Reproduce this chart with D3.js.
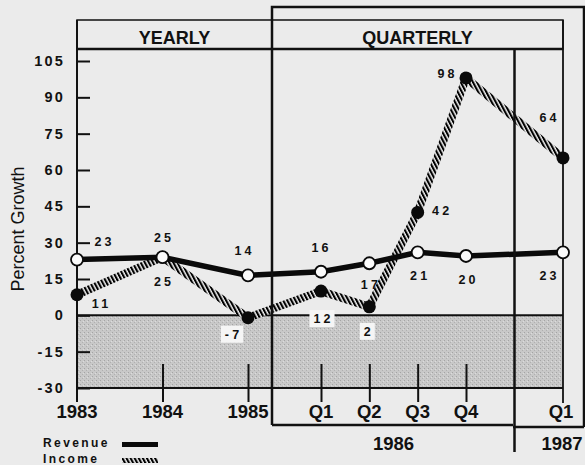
<!DOCTYPE html>
<html>
<head>
<meta charset="utf-8">
<script src="https://cdn.jsdelivr.net/npm/d3@7"></script>
<style>
  body { margin: 0; background: #ebebeb; }
  svg { display: block; font-family: "Liberation Sans", Arial, sans-serif; }
</style>
</head>
<body>
<div id="chart"></div>
<script>
// categories along the bottom axis
const categories = ["1983", "1984", "1985", "Q1", "Q2", "Q3", "Q4", "Q1"];
const periods = [0, 1, 2, 3, 4, 5, 6, 7];

// plotted values (as drawn) and the printed labels
const revenue = [23, 24, 16.5, 18, 21.5, 26, 24.5, 26];
const revenueLabels = ["23", "25", "14", "16", "17", "21", "20", "23"];
const income = [8.5, 24, -1, 10, 3.5, 42.5, 98, 65];
const incomeLabels = ["11", "25", "-7", "12", "2", "42", "98", "64"];

const yTicks = [-30, -15, 0, 15, 30, 45, 60, 75, 90, 105];

// label placement offsets (px) relative to each point
const revenueOffsets = [[26, -14], [0, -15], [-5, -20], [-1, -20], [0, 26], [1, 28], [1, 28], [-15, 28]];
const incomeOffsets = [[23, 13], [0, 29], [-16, 21], [1, 32], [-2, 29], [23, 3], [-20, 0], [-15, -36]];
const boxedIncome = [2, 3, 4];

const width = 585, height = 465;
const left = 77, right = 563, plotTop = 49, headTop = 20;

const svg = d3.select("#chart").append("svg")
    .attr("width", width)
    .attr("height", height);

const defs = svg.append("defs");

// diagonal hatch for the income line
const hatch = defs.append("pattern")
    .attr("id", "hatch")
    .attr("patternUnits", "userSpaceOnUse")
    .attr("width", 3.6)
    .attr("height", 3.6)
    .attr("patternTransform", "rotate(-28)");
hatch.append("rect").attr("width", 3.6).attr("height", 3.6).attr("fill", "#f2f2f2");
hatch.append("rect").attr("width", 2.1).attr("height", 3.6).attr("fill", "#000");

// stipple for the negative band
const stip = defs.append("pattern")
    .attr("id", "stipple")
    .attr("patternUnits", "userSpaceOnUse")
    .attr("width", 4)
    .attr("height", 4);
stip.append("rect").attr("width", 4).attr("height", 4).attr("fill", "#c8c8c8");
stip.append("rect").attr("x", 0).attr("y", 0).attr("width", 1).attr("height", 1).attr("fill", "#a4a4a4");
stip.append("rect").attr("x", 2).attr("y", 2).attr("width", 1).attr("height", 1).attr("fill", "#b0b0b0");
stip.append("rect").attr("x", 3).attr("y", 1).attr("width", 1).attr("height", 1).attr("fill", "#dcdcdc");

const x = d3.scaleLinear().domain([0, 2, 3, 6, 7]).range([77, 248, 321, 466, 563]);
const y = d3.scaleLinear().domain([-30, 105]).range([388, 61]);

// negative band
svg.append("rect")
    .attr("x", left).attr("y", y(0))
    .attr("width", right - left).attr("height", y(-30) - y(0))
    .attr("fill", "url(#stipple)");

svg.append("line")
    .attr("x1", left).attr("x2", right)
    .attr("y1", y(0)).attr("y2", y(0))
    .attr("stroke", "#111").attr("stroke-width", 2);

// lines
const line = d3.line().x((d, i) => x(periods[i])).y(d => y(d));

svg.append("path")
    .datum(income)
    .attr("d", line)
    .attr("fill", "none")
    .attr("stroke", "url(#hatch)")
    .attr("stroke-width", 8);

svg.append("path")
    .datum(revenue)
    .attr("d", line)
    .attr("fill", "none")
    .attr("stroke", "#0a0a0a")
    .attr("stroke-width", 5.5);

// frames
const frame = svg.append("g").attr("stroke", "#111").attr("fill", "none");
frame.append("rect").attr("x", left).attr("y", headTop).attr("width", right - left).attr("height", plotTop - headTop).attr("stroke-width", 1.5);
frame.append("line").attr("x1", left).attr("x2", right).attr("y1", plotTop).attr("y2", plotTop).attr("stroke-width", 2.5);
frame.append("path").attr("d", "M272,425V7H584V427").attr("stroke-width", 2.5);
frame.append("line").attr("x1", 513).attr("x2", 584).attr("y1", 427).attr("y2", 427).attr("stroke-width", 2.5);
frame.append("line").attr("x1", 272).attr("x2", 513).attr("y1", 425).attr("y2", 425).attr("stroke-width", 2.5);
frame.append("line").attr("x1", x(6.5)).attr("x2", x(6.5)).attr("y1", plotTop).attr("y2", 452).attr("stroke-width", 2.5);
frame.append("line").attr("x1", left).attr("x2", left).attr("y1", headTop).attr("y2", 402).attr("stroke-width", 2);
frame.append("line").attr("x1", right).attr("x2", right).attr("y1", headTop).attr("y2", 403).attr("stroke-width", 1.8);
frame.append("line").attr("x1", left).attr("x2", right).attr("y1", y(-30)).attr("y2", y(-30)).attr("stroke-width", 2);

// header text
svg.append("text").attr("x", (left + 272) / 2).attr("y", 44)
    .attr("text-anchor", "middle").attr("font-size", 18).attr("font-weight", "bold").attr("fill", "#111")
    .text("YEARLY");
svg.append("text").attr("x", (272 + right) / 2).attr("y", 44)
    .attr("text-anchor", "middle").attr("font-size", 18).attr("font-weight", "bold").attr("fill", "#111")
    .text("QUARTERLY");

// y axis
const yAxis = svg.append("g")
    .attr("transform", `translate(${left},0)`)
    .call(d3.axisRight(y).tickValues(yTicks).tickSize(13).tickPadding(0).tickFormat(""));
yAxis.select(".domain").remove();
yAxis.selectAll("line").attr("stroke", "#111").attr("stroke-width", 2);

svg.append("g").selectAll("text")
    .data(yTicks)
    .join("text")
    .attr("x", 65)
    .attr("y", d => y(d) + 5)
    .attr("text-anchor", "end")
    .attr("font-size", 14.5)
    .attr("font-weight", "bold")
    .attr("letter-spacing", 2.2)
    .attr("fill", "#111")
    .text(d => d);

svg.append("text")
    .attr("transform", "translate(24,229) rotate(-90)")
    .attr("text-anchor", "middle")
    .attr("font-size", 18)
    .attr("fill", "#111")
    .text("Percent Growth");

// x axis ticks and labels
const xAxis = svg.append("g")
    .attr("transform", `translate(0,${y(-30)})`)
    .call(d3.axisBottom(x).tickValues(periods.slice(1, 7)).tickSizeInner(14).tickSizeOuter(0).tickFormat(""));
xAxis.select(".domain").remove();
xAxis.selectAll("line").attr("stroke", "#111").attr("stroke-width", 2).attr("y1", -24);

svg.append("g").selectAll("text")
    .data(categories)
    .join("text")
    .attr("x", (d, i) => x(periods[i]) + (i === 7 ? -2 : 0))
    .attr("y", 418)
    .attr("text-anchor", "middle")
    .attr("font-size", 18.5)
    .attr("font-weight", "bold")
    .attr("fill", "#111")
    .text(d => d);

const years = [{ label: "1986", from: 3, to: 6 }, { label: "1987", from: 7, to: 7 }];
svg.append("g").selectAll("text")
    .data(years)
    .join("text")
    .attr("x", d => (x(d.from) + x(d.to)) / 2 - (d.from === d.to ? 1 : 0))
    .attr("y", 450)
    .attr("text-anchor", "middle")
    .attr("font-size", 18.5)
    .attr("font-weight", "bold")
    .attr("fill", "#111")
    .text(d => d.label);

// points
svg.append("g").selectAll("circle")
    .data(income)
    .join("circle")
    .attr("cx", (d, i) => x(periods[i]))
    .attr("cy", d => y(d))
    .attr("r", 6.5)
    .attr("fill", "#0a0a0a");

svg.append("g").selectAll("circle")
    .data(revenue)
    .join("circle")
    .attr("cx", (d, i) => x(periods[i]))
    .attr("cy", d => y(d))
    .attr("r", 6)
    .attr("fill", "#fbfbfb")
    .attr("stroke", "#0a0a0a")
    .attr("stroke-width", 1.8);

// data labels
const ls = 3.2;
function addLabels(values, labels, offsets, boxed) {
    const g = svg.append("g");
    values.forEach((v, i) => {
        const cx = x(periods[i]) + offsets[i][0];
        const by = y(v) + offsets[i][1];
        const t = g.append("text")
            .attr("x", cx + ls / 2)
            .attr("y", by)
            .attr("text-anchor", "middle")
            .attr("font-size", 12.5)
            .attr("font-weight", "bold")
            .attr("letter-spacing", ls)
            .attr("fill", "#111")
            .text(labels[i]);
        if (boxed.includes(i)) {
            const w = t.node().getComputedTextLength() - ls + 8;
            g.insert("rect", "text")
                .attr("x", cx - w / 2)
                .attr("y", by - 13)
                .attr("width", w)
                .attr("height", 17)
                .attr("fill", "#f5f5f5");
        }
    });
}
addLabels(revenue, revenueLabels, revenueOffsets, []);
addLabels(income, incomeLabels, incomeOffsets, boxedIncome);

// legend
const legend = svg.append("g");
const legendItems = [["Revenue", "#0a0a0a", 447], ["Income", "url(#hatch)", 463]];
legendItems.forEach(([name, fill, by]) => {
    legend.append("text")
        .attr("x", 43).attr("y", by)
        .attr("font-size", 12).attr("font-weight", "bold")
        .attr("letter-spacing", 2.4).attr("fill", "#111")
        .text(name);
    legend.append("rect")
        .attr("x", 122).attr("y", by - 5)
        .attr("width", 36).attr("height", 5)
        .attr("fill", fill);
});
</script>
</body>
</html>
